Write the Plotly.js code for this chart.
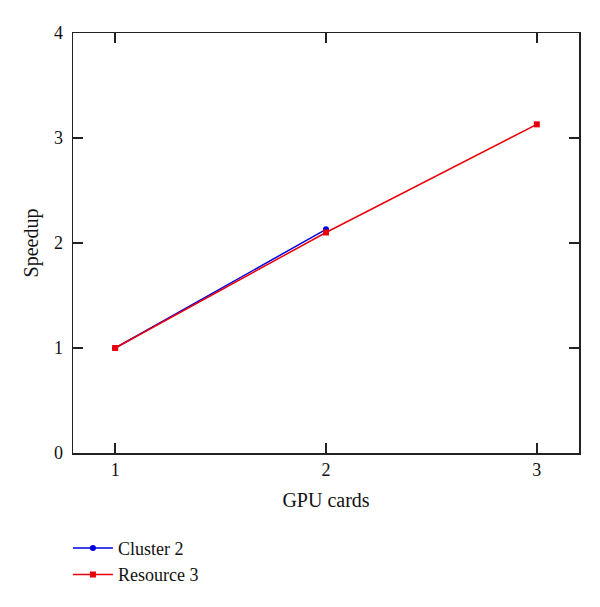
<!DOCTYPE html>
<html>
<head>
<meta charset="utf-8">
<script src="https://cdn.plot.ly/plotly-3.0.1.min.js"></script>
<style>html,body{margin:0;padding:0;background:#fff;}#chart{width:600px;height:607px;}</style>
</head>
<body>
<div id="chart"></div>
<script>
const clusterX = [1, 2];
const clusterY = [1, 2.13];
const resourceX = [1, 2, 3];
const resourceY = [1, 2.10, 3.13];
const xTicks = [1, 2, 3];
const yTicks = [0, 1, 2, 3, 4];

const fontFam = '"Liberation Serif", "DejaVu Serif", serif';

const traces = [
  {x: clusterX, y: clusterY, name: 'Cluster 2', mode: 'lines+markers', type: 'scatter',
   line: {color: '#0000e0', width: 1.5}, marker: {symbol: 'circle', size: 6, color: '#0000e0'}},
  {x: resourceX, y: resourceY, name: 'Resource 3', mode: 'lines+markers', type: 'scatter',
   line: {color: '#e8000b', width: 1.5}, marker: {symbol: 'square', size: 6, color: '#e8000b'}}
];

const axisCommon = {
  showline: true, linecolor: '#222', linewidth: 1.5, mirror: 'ticks',
  ticks: 'inside', ticklen: 10, tickwidth: 1.5, tickcolor: '#222',
  showgrid: false, zeroline: false,
  tickfont: {family: fontFam, size: 18, color: '#111'}
};

const layout = {
  width: 600, height: 607,
  margin: {l: 73, r: 21, t: 33, b: 154},
  paper_bgcolor: '#fff', plot_bgcolor: '#fff',
  font: {family: fontFam, color: '#111'},
  showlegend: true,
  legend: {x: -0.01, y: -0.183, xanchor: 'left', yanchor: 'top',
           font: {family: fontFam, size: 18, color: '#111'},
           bgcolor: 'rgba(0,0,0,0)', tracegroupgap: 0, itemwidth: 40},
  xaxis: Object.assign({}, axisCommon, {
    range: [0.8, 3.2], tickvals: xTicks, ticktext: xTicks.map(String),
    title: {text: 'GPU cards', font: {family: fontFam, size: 20, color: '#111'}, standoff: 14}
  }),
  yaxis: Object.assign({}, axisCommon, {
    range: [0, 4], tickvals: yTicks, ticktext: yTicks.map(String), ticklabelstandoff: 5,
    title: {text: 'Speedup', font: {family: fontFam, size: 20, color: '#111'}, standoff: 10}
  })
};

Plotly.newPlot('chart', traces, layout, {displayModeBar: false, staticPlot: true});
</script>
</body>
</html>
